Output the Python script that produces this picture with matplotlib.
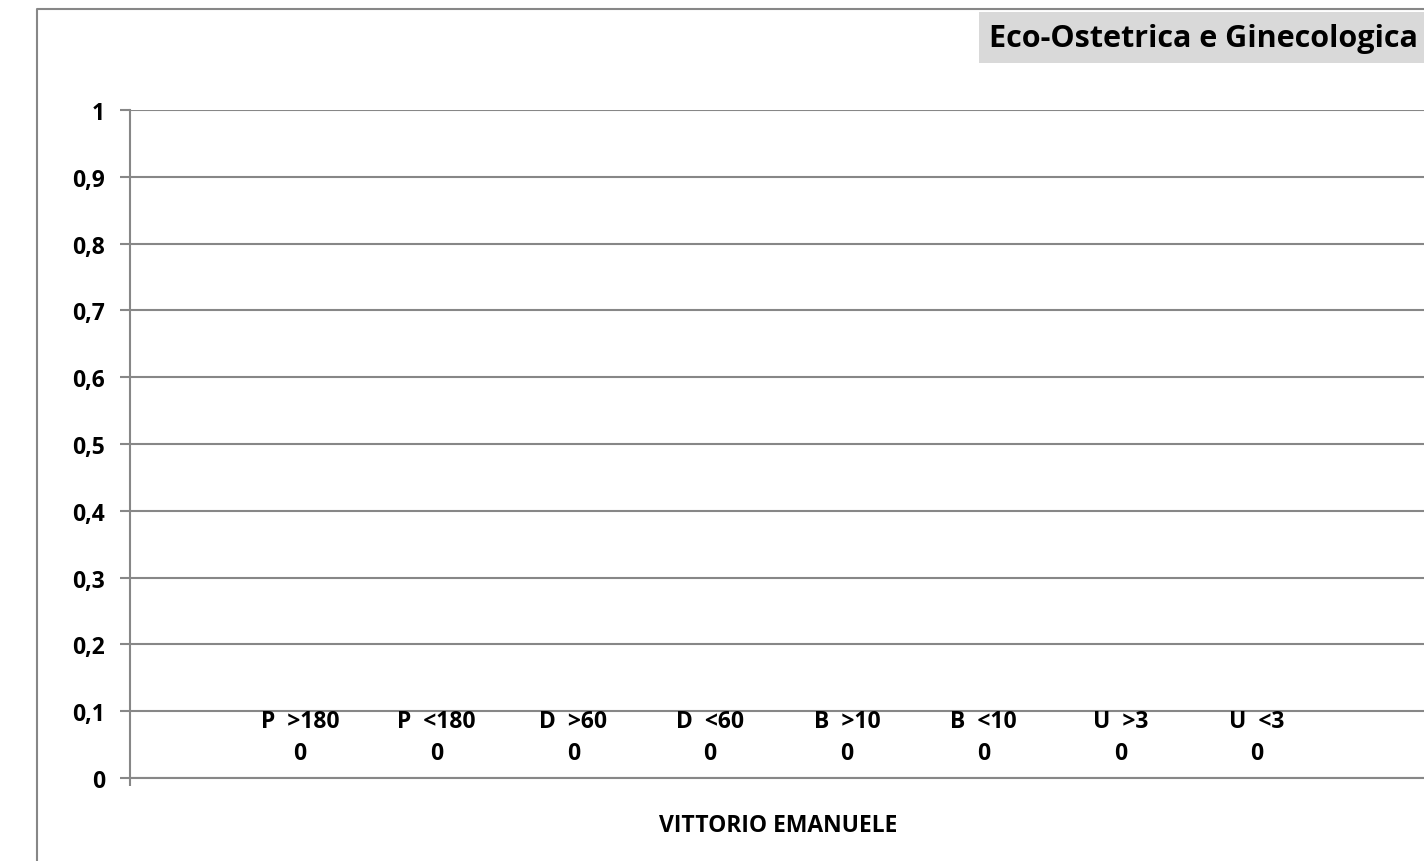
import matplotlib.pyplot as plt
from matplotlib.lines import Line2D
from matplotlib.patches import Rectangle

plt.rcParams['font.family'] = ['Open Sans', 'DejaVu Sans']

# ─── Dati ────────────────────────────────────────────────────────────────────

serie = ["P  >180", "P  <180", "D  >60", "D  <60", "B  >10", "B  <10", "U  >3", "U  <3"]
valori = [0, 0, 0, 0, 0, 0, 0, 0]
categoria = "VITTORIO EMANUELE"
titolo = "Eco-Ostetrica e Ginecologica"
y_ticks = [0, 0.1, 0.2, 0.3, 0.4, 0.5, 0.6, 0.7, 0.8, 0.9, 1]
y_labels = ["0", "0,1", "0,2", "0,3", "0,4", "0,5", "0,6", "0,7", "0,8", "0,9", "1"]

GRIGIO = '#878787'
W, H = 1424, 862

fig = plt.figure(figsize=(W / 100, H / 100), dpi=100)

# cornice esterna del grafico (tagliata a destra e in basso)
fig.add_artist(Line2D([37 / W, 37 / W, 1.01], [-0.01, 1 - 10 / H, 1 - 10 / H],
                      transform=fig.transFigure, color=GRIGIO, lw=1.5))

# area del grafico
ax = fig.add_axes([130 / W, 1 - 779 / H, 1297 / W, (779 - 111) / H])

n = len(serie)
w = 0.1054
xs = [(i - (n - 1) / 2) * w for i in range(n)]
ax.bar(xs, valori, width=w, linewidth=0)

for x, nome, v in zip(xs, serie, valori):
    ax.annotate(f"{nome}\n{v}", (x, v), xytext=(0, 9), textcoords='offset points',
                ha='center', va='bottom', multialignment='center', linespacing=1.45,
                fontsize=16.5, fontweight='bold')

ax.set_xlim(-0.5, 0.5)
ax.set_ylim(0, 1)
ax.set_yticks(y_ticks)
ax.set_yticklabels(y_labels, fontsize=16.5, fontweight='bold')
ax.yaxis.grid(True, color=GRIGIO, lw=1.5)
ax.set_axisbelow(True)

ax.set_xticks([-0.5, 0.5])
ax.set_xticklabels([])
ax.set_xticks([0], minor=True)
ax.set_xticklabels([categoria], minor=True, fontsize=16.5, fontweight='bold')
ax.tick_params(axis='x', which='minor', length=0, pad=25)
ax.tick_params(axis='x', which='major', length=6, width=1.5, color=GRIGIO)
ax.tick_params(axis='y', length=7, width=1.5, color=GRIGIO, pad=11)

for s in ['top', 'right']:
    ax.spines[s].set_visible(False)
for s in ['left', 'bottom']:
    ax.spines[s].set_color(GRIGIO)
    ax.spines[s].set_linewidth(1.5)

# titolo in riquadro grigio
fig.add_artist(Rectangle((979 / W, 1 - 64 / H), 0.5, 51 / H, transform=fig.transFigure,
                         facecolor='#d9d9d9', edgecolor='none'))
fig.text(989 / W, 1 - 39 / H, titolo, ha='left', va='center',
         fontsize=22, fontweight='bold')

fig.savefig('out.png', dpi=100)
